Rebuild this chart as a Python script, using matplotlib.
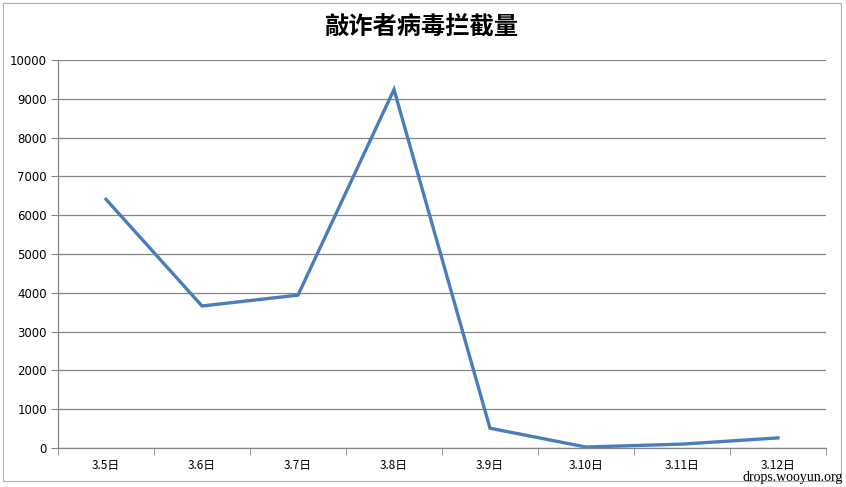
import matplotlib
matplotlib.use('Agg')
import matplotlib.pyplot as plt
from matplotlib.patches import Rectangle
import numpy as np

plt.rcParams['font.family'] = ['Noto Sans CJK SC', 'DejaVu Sans']

# --- データ ---
title = '敲诈者病毒拦截量'
dates = ['3.5日', '3.6日', '3.7日', '3.8日', '3.9日', '3.10日', '3.11日', '3.12日']
counts = [6410, 3660, 3940, 9240, 510, 25, 100, 260]
y_ticks = list(range(0, 10001, 1000))

W, H = 846, 487
fig = plt.figure(figsize=(W / 100, H / 100), dpi=100)

# グラフ枠
fig.patches.append(Rectangle((3 / W, 6 / H), 838 / W, 478 / H, transform=fig.transFigure,
                             fill=False, edgecolor='#b0b0b0', linewidth=0.8))

ax = fig.add_axes([58 / W, 39 / H, 768 / W, 388 / H])
x = np.arange(len(dates))
ax.plot(x, counts, color='#4a7ebb', linewidth=2.4, solid_joinstyle='miter')

ax.set_xlim(-0.5, len(dates) - 0.5)
ax.set_ylim(0, 10000)
ax.set_yticks(y_ticks)
ax.set_yticklabels([str(v) for v in y_ticks], fontsize=8.5, family=['DejaVu Sans'])
ax.set_xticks(x)
ax.set_xticklabels(dates, fontsize=8.5)
ax.set_xticks(np.arange(-0.5, len(dates)), minor=True)
ax.tick_params(axis='x', which='major', length=0, pad=8)
ax.tick_params(axis='x', which='minor', length=5, color='#868686', direction='out')
ax.tick_params(axis='y', length=5, color='#868686', direction='out', pad=3)

ax.grid(axis='y', color='#868686', linewidth=0.9)
ax.set_axisbelow(True)
for side in ['top', 'right']:
    ax.spines[side].set_visible(False)
for side in ['left', 'bottom']:
    ax.spines[side].set_color('#868686')
    ax.spines[side].set_linewidth(0.9)

fig.text(421 / W, 1 - 27 / H, title, ha='center', va='center', fontsize=17.5, fontweight='bold')
fig.text(843 / W, 1 - 477 / H, 'drops.wooyun.org', ha='right', va='center',
         fontsize=10, family=['Liberation Serif', 'DejaVu Serif'])

fig.savefig('out.png', dpi=100)
